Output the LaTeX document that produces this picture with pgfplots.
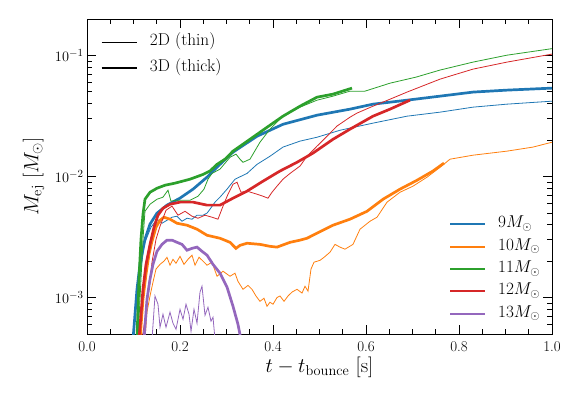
\documentclass[border=0pt]{standalone}
\usepackage{pgfplots}
\pgfplotsset{compat=1.18}
\definecolor{c0}{HTML}{1F77B4}
\definecolor{c1}{HTML}{FF7F0E}
\definecolor{c2}{HTML}{2CA02C}
\definecolor{c3}{HTML}{D62728}
\definecolor{c4}{HTML}{9467BD}
\begin{document}
\begin{tikzpicture}
\begin{axis}[
  scale only axis, width=465bp, height=315bp,
  xmin=0, xmax=1, ymin=5e-4, ymax=0.2,
  ymode=log,
  xtick={0,0.2,0.4,0.6,0.8,1.0}, minor x tick num=3,
  xticklabel style={yshift=-4bp, /pgf/number format/.cd, fixed, fixed zerofill, precision=1, assume math mode=true},
  tick align=inside,
  major tick length=9bp, minor tick length=5bp,
  every tick/.style={black, line width=0.8bp},
  axis line style={line width=1bp},
  tick label style={font=\fontsize{15}{18}\selectfont},
  label style={font=\fontsize{20.74}{24}\selectfont},
  xlabel={$t - t_{\mathrm{bounce}}$ [s]},
  ylabel={$M_{\mathrm{ej}}$ [$M_\odot$]},
  xlabel style={at={(axis description cs:0.5,-0.105)}, anchor=center},
  ylabel style={at={(axis description cs:-0.115,0.5)}, anchor=center},
  legend image code/.code={\draw[#1] (0bp,0bp) -- (35bp,0bp); \path (47bp,0bp);},
  legend cell align=left,
  legend style={draw=none, fill=none, inner sep=0pt,
    at={(axis description cs:0.7785,0.373)}, anchor=north west,
    font=\fontsize{17.28}{20}\selectfont, row sep=7.4bp,
    nodes={inner sep=0pt, text height=11bp, text depth=4bp}},
]
% 9 Msun
\addplot[c0, line width=0.8bp, forget plot] coordinates {(0.1054,4.5e-4)(0.1140,1.42e-3)(0.1226,2.75e-3)(0.1290,3.15e-3)(0.1376,3.81e-3)(0.1505,4.44e-3)(0.1613,4.11e-3)(0.1720,4.35e-3)(0.1828,4.61e-3)(0.1935,4.70e-3)(0.2043,4.27e-3)(0.2151,4.52e-3)(0.2258,4.44e-3)(0.2366,4.79e-3)(0.2495,4.79e-3)(0.2581,4.98e-3)(0.2645,5.37e-3)(0.2753,6.14e-3)(0.2860,6.75e-3)(0.3011,7.86e-3)(0.3183,9.50e-3)(0.3441,1.06e-2)(0.3656,1.26e-2)(0.3935,1.47e-2)(0.4215,1.75e-2)(0.4581,1.96e-2)(0.4946,2.11e-2)(0.5441,2.41e-2)(0.6151,2.76e-2)(0.6882,3.15e-2)(0.7591,3.40e-2)(0.8301,3.74e-2)(0.9032,3.96e-2)(1.0,4.19e-2)};
\addplot[c0, line width=2.7bp, forget plot] coordinates {(0.0989,4.5e-4)(0.1075,1.17e-3)(0.1140,1.88e-3)(0.1247,3.03e-3)(0.1355,4.04e-3)(0.1505,4.98e-3)(0.1720,5.80e-3)(0.1998,6.62e-3)(0.2280,7.86e-3)(0.2581,9.87e-3)(0.2860,1.26e-2)(0.3140,1.59e-2)(0.3656,2.15e-2)(0.4215,2.70e-2)(0.4946,3.21e-2)(0.5656,3.60e-2)(0.6151,3.96e-2)(0.6882,4.27e-2)(0.7591,4.61e-2)(0.8301,4.98e-2)(0.9032,5.17e-2)(1.0,5.37e-2)};
% 10 Msun
\addplot[c1, line width=0.8bp, forget plot] coordinates {(0.1247,4.5e-4)(0.1290,7.57e-4)(0.1355,1.03e-3)(0.1419,1.34e-3)(0.1484,1.72e-3)(0.1570,1.88e-3)(0.1656,2.00e-3)(0.1720,2.15e-3)(0.1785,1.85e-3)(0.1849,2.07e-3)(0.1914,1.92e-3)(0.2000,2.19e-3)(0.2086,1.88e-3)(0.2172,2.07e-3)(0.2258,2.24e-3)(0.2323,1.85e-3)(0.2409,2.15e-3)(0.2495,2.00e-3)(0.2581,1.85e-3)(0.2688,1.96e-3)(0.2796,1.50e-3)(0.2925,1.65e-3)(0.3075,1.50e-3)(0.3183,1.59e-3)(0.3247,1.36e-3)(0.3355,1.17e-3)(0.3462,1.26e-3)(0.3548,1.17e-3)(0.3634,1.03e-3)(0.3720,9.31e-4)(0.3806,9.87e-4)(0.3871,8.47e-4)(0.3935,9.15e-4)(0.4000,8.81e-4)(0.4086,1.00e-3)(0.4151,1.03e-3)(0.4237,9.31e-4)(0.4323,1.03e-3)(0.4409,1.11e-3)(0.4516,1.17e-3)(0.4624,1.09e-3)(0.4688,1.24e-3)(0.4753,1.13e-3)(0.4817,1.72e-3)(0.4882,1.96e-3)(0.5011,2.03e-3)(0.5097,2.15e-3)(0.5226,2.37e-3)(0.5333,2.75e-3)(0.5441,2.61e-3)(0.5548,2.51e-3)(0.5720,2.75e-3)(0.5871,3.67e-3)(0.6086,4.27e-3)(0.6237,4.61e-3)(0.6452,6.14e-3)(0.6731,7.41e-3)(0.7011,8.32e-3)(0.7312,9.87e-3)(0.7591,1.19e-2)(0.7806,1.39e-2)(0.8301,1.50e-2)(0.9032,1.62e-2)(0.9591,1.75e-2)(1.0,1.92e-2)};
\addplot[c1, line width=2.7bp, forget plot] coordinates {(0.1140,4.5e-4)(0.1204,9.69e-4)(0.1269,1.56e-3)(0.1333,2.28e-3)(0.1398,2.92e-3)(0.1484,3.81e-3)(0.1570,4.35e-3)(0.1656,4.61e-3)(0.1785,4.44e-3)(0.1935,4.11e-3)(0.2151,3.96e-3)(0.2366,3.67e-3)(0.2581,3.27e-3)(0.2860,3.09e-3)(0.3075,2.86e-3)(0.3204,2.55e-3)(0.3290,2.70e-3)(0.3441,2.81e-3)(0.3720,2.75e-3)(0.3935,2.65e-3)(0.4086,2.61e-3)(0.4366,2.86e-3)(0.4581,2.98e-3)(0.4731,3.09e-3)(0.4946,3.40e-3)(0.5290,3.96e-3)(0.5656,4.44e-3)(0.6022,5.16e-3)(0.6366,6.49e-3)(0.6731,7.86e-3)(0.7097,9.31e-3)(0.7441,1.11e-2)(0.7677,1.29e-2)};
% 11 Msun
\addplot[c2, line width=0.8bp, forget plot] coordinates {(0.1097,4.5e-4)(0.1161,1.42e-3)(0.1204,3.03e-3)(0.1247,5.16e-3)(0.1355,5.90e-3)(0.1505,6.49e-3)(0.1634,6.75e-3)(0.1742,7.71e-3)(0.1806,6.25e-3)(0.1914,6.37e-3)(0.2043,6.37e-3)(0.2215,6.37e-3)(0.2387,6.87e-3)(0.2516,7.86e-3)(0.2602,9.50e-3)(0.2688,1.06e-2)(0.2860,1.15e-2)(0.3075,1.44e-2)(0.3204,1.53e-2)(0.3290,1.39e-2)(0.3355,1.31e-2)(0.3505,1.39e-2)(0.3720,1.92e-2)(0.3935,2.46e-2)(0.4215,3.15e-2)(0.4581,3.74e-2)(0.4946,4.27e-2)(0.5290,4.61e-2)(0.5656,5.07e-2)(0.5978,5.07e-2)(0.6516,5.90e-2)(0.7075,6.62e-2)(0.7591,7.57e-2)(0.8301,8.81e-2)(0.9032,0.1005)(1.0,0.1138)};
\addplot[c2, line width=2.7bp, forget plot] coordinates {(0.1075,4.5e-4)(0.1118,1.42e-3)(0.1161,3.03e-3)(0.1204,4.88e-3)(0.1247,6.49e-3)(0.1355,7.41e-3)(0.1505,8.00e-3)(0.1677,8.47e-3)(0.1892,8.81e-3)(0.2215,9.50e-3)(0.2495,1.04e-2)(0.2645,1.11e-2)(0.2796,1.26e-2)(0.2968,1.39e-2)(0.3140,1.62e-2)(0.3505,2.03e-2)(0.3871,2.55e-2)(0.4215,3.15e-2)(0.4581,3.81e-2)(0.4946,4.52e-2)(0.5290,4.79e-2)(0.5699,5.37e-2)};
% 12 Msun
\addplot[c3, line width=0.8bp, forget plot] coordinates {(0.1183,4.5e-4)(0.1269,7.57e-4)(0.1333,1.17e-3)(0.1398,1.96e-3)(0.1484,3.03e-3)(0.1570,3.88e-3)(0.1699,5.26e-3)(0.1828,5.69e-3)(0.1957,4.79e-3)(0.2108,5.16e-3)(0.2258,4.70e-3)(0.2387,4.52e-3)(0.2538,4.79e-3)(0.2688,4.61e-3)(0.2817,4.44e-3)(0.2925,5.69e-3)(0.3032,7.14e-3)(0.3140,8.63e-3)(0.3226,8.97e-3)(0.3312,7.41e-3)(0.3441,7.57e-3)(0.3656,7.14e-3)(0.3785,6.87e-3)(0.3892,6.62e-3)(0.3978,7.41e-3)(0.4086,8.32e-3)(0.4215,9.50e-3)(0.4366,1.06e-2)(0.4581,1.22e-2)(0.4731,1.47e-2)(0.4946,1.78e-2)(0.5161,2.15e-2)(0.5376,2.61e-2)(0.5656,3.09e-2)(0.5806,3.34e-2)(0.6151,3.81e-2)(0.6516,4.35e-2)(0.6882,4.98e-2)(0.7591,6.37e-2)(0.8301,7.71e-2)(0.9032,8.81e-2)(1.0,0.1026)};
\addplot[c3, line width=2.7bp, forget plot] coordinates {(0.1118,4.5e-4)(0.1204,1.17e-3)(0.1269,1.88e-3)(0.1355,2.75e-3)(0.1441,3.81e-3)(0.1527,4.79e-3)(0.1634,5.47e-3)(0.1785,5.90e-3)(0.2000,6.14e-3)(0.2280,6.14e-3)(0.2581,5.80e-3)(0.2860,5.80e-3)(0.3140,6.62e-3)(0.3441,7.57e-3)(0.3785,9.15e-3)(0.4151,1.11e-2)(0.4516,1.31e-2)(0.4860,1.56e-2)(0.5290,2.03e-2)(0.5656,2.46e-2)(0.6151,3.15e-2)(0.6516,3.60e-2)(0.6946,4.27e-2)};
% 13 Msun
\addplot[c4, line width=0.8bp, forget plot] coordinates {(0.1398,4.5e-4)(0.1462,1.03e-3)(0.1527,8.81e-4)(0.1570,5.68e-4)(0.1634,7.28e-4)(0.1699,5.68e-4)(0.1785,7.57e-4)(0.1849,6.14e-4)(0.1914,5.47e-4)(0.2000,8.00e-4)(0.2065,6.61e-4)(0.2129,8.81e-4)(0.2194,7.28e-4)(0.2237,5.26e-4)(0.2301,8.00e-4)(0.2366,6.14e-4)(0.2430,1.11e-3)(0.2473,1.24e-3)(0.2538,7.14e-4)(0.2602,8.32e-4)(0.2667,6.37e-4)(0.2710,6.87e-4)(0.2753,4.5e-4)};
\addplot[c4, line width=2.7bp, forget plot] coordinates {(0.1226,4.5e-4)(0.1290,9.69e-4)(0.1355,1.42e-3)(0.1419,1.88e-3)(0.1505,2.41e-3)(0.1613,2.75e-3)(0.1720,2.98e-3)(0.1828,2.98e-3)(0.1935,2.86e-3)(0.2043,2.75e-3)(0.2151,2.46e-3)(0.2258,2.55e-3)(0.2366,2.61e-3)(0.2473,2.41e-3)(0.2581,2.24e-3)(0.2710,1.88e-3)(0.2860,1.59e-3)(0.3011,1.22e-3)(0.3140,8.47e-4)(0.3247,6.01e-4)(0.3312,4.5e-4)};
\addlegendimage{c0, line width=2bp}\addlegendentry{$9M_\odot$}
\addlegendimage{c1, line width=2bp}\addlegendentry{$10M_\odot$}
\addlegendimage{c2, line width=2bp}\addlegendentry{$11M_\odot$}
\addlegendimage{c3, line width=2bp}\addlegendentry{$12M_\odot$}
\addlegendimage{c4, line width=2bp}\addlegendentry{$13M_\odot$}
\end{axis}
\begin{axis}[
  scale only axis, width=465bp, height=315bp,
  hide axis, xmin=0, xmax=1, ymin=0, ymax=1,
  legend image code/.code={\draw[#1] (0bp,0bp) -- (35bp,0bp); \path (47bp,0bp);},
  legend cell align=left,
  legend style={draw=none, fill=none, inner sep=0pt,
    at={(axis description cs:0.028,0.951)}, anchor=north west,
    font=\fontsize{17.28}{20}\selectfont, row sep=11bp,
    nodes={inner sep=0pt, text height=11bp, text depth=4bp}},
]
\addlegendimage{black, line width=0.8bp}\addlegendentry{2D (thin)}
\addlegendimage{black, line width=2.7bp}\addlegendentry{3D (thick)}
\end{axis}
\pgfresetboundingbox
\path (-87bp,-61bp) rectangle (494bp,334bp);
\end{tikzpicture}
\end{document}
